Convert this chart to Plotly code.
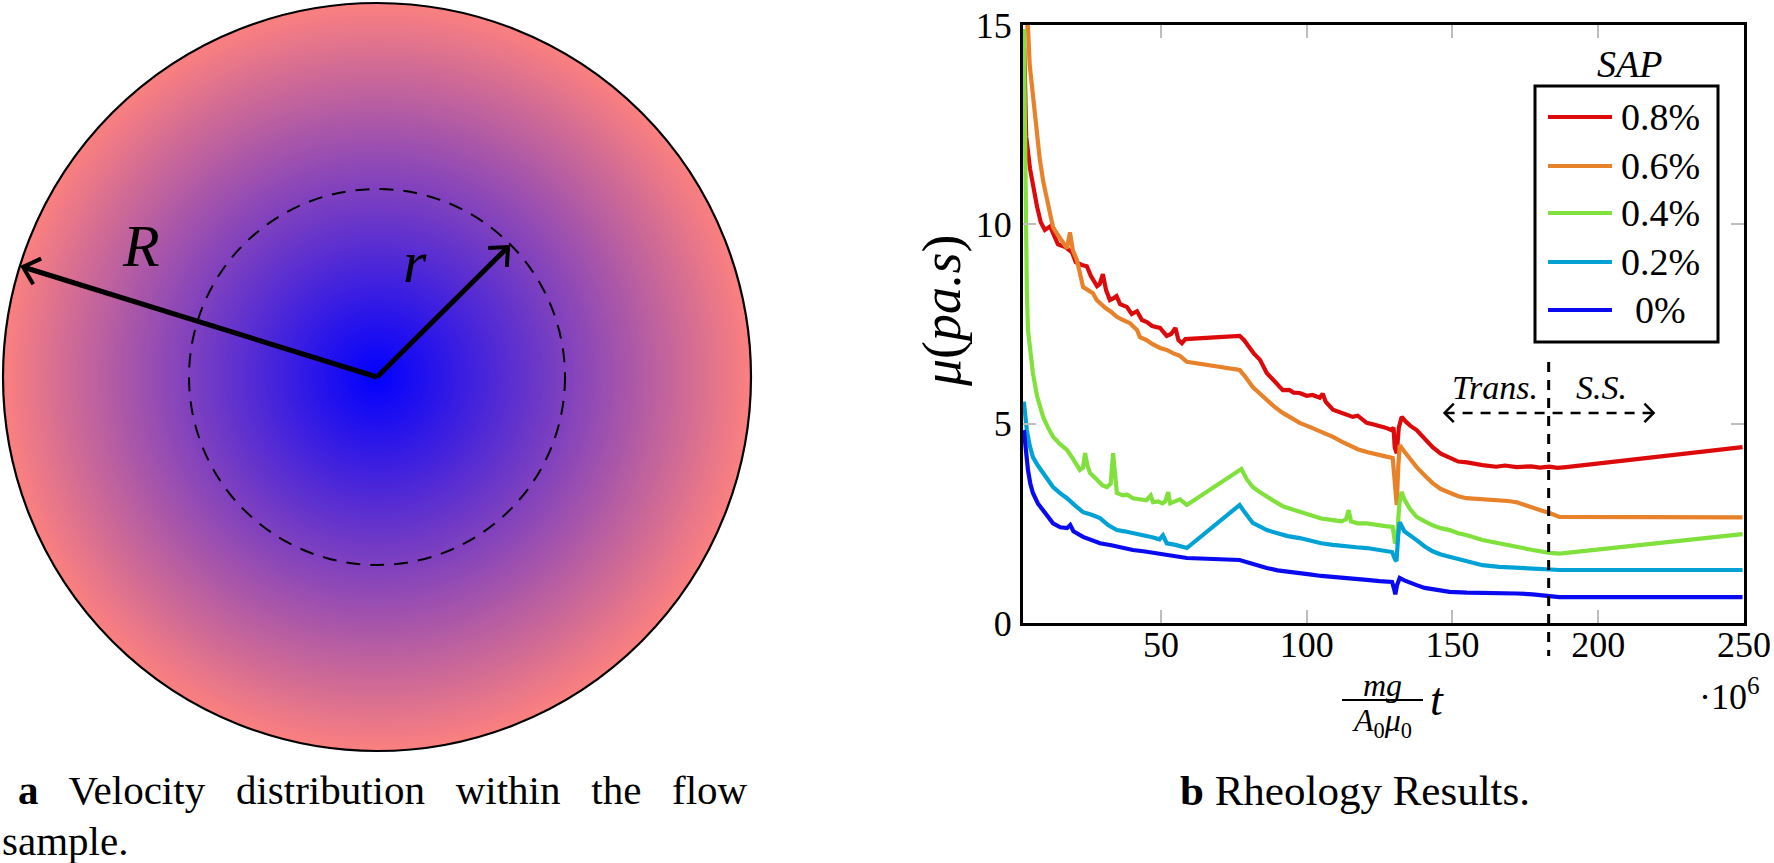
import math
import plotly.graph_objects as go

W, H = 1774, 863

# ---------------- data ----------------
series_names = ["0.8%", "0.6%", "0.4%", "0.2%", "0%"]
series_colors = ["#dc0a0a", "#e8822a", "#80e03c", "#00a2d6", "#0a0af0"]

x_08 = [3.0, 3.3, 3.8, 5.1, 6.2, 7.5, 8.8, 10.2, 12.0, 13.3, 14.7, 16.5, 17.8, 19.5, 20.8, 22.9, 24.6, 26.0,
        28.1, 29.0, 30.1, 31.2, 32.5, 33.8, 34.8, 36.0, 38.3, 40.0, 41.8, 43.5, 45.2, 47.0, 49.7, 52.0, 53.5,
        55.0, 56.0, 57.2, 58.4, 77.0, 78.5, 80.0, 82.0, 84.0, 85.5, 86.3, 88.5, 90.5, 91.8, 94.0, 95.5, 97.6,
        100.0, 102.0, 104.5, 105.5, 106.5, 109.0, 111.0, 113.0, 115.8, 117.5, 120.6, 123.0, 125.0, 127.0,
        129.0, 129.8, 130.2, 130.9, 131.6, 132.6, 134.0, 135.5, 137.7, 140.5, 143.2, 146.0, 149.0, 152.0,
        155.0, 158.0, 160.3, 165.0, 168.0, 172.0, 177.0, 180.0, 183.3, 186.0, 189.0, 249.5]
y_08 = [14.9, 13.6, 12.2, 11.4, 10.9, 10.45, 10.05, 9.86, 9.95, 9.7, 9.5, 9.45, 9.4, 9.3, 9.05, 8.98, 8.95, 8.7,
        8.45, 8.5, 8.75, 8.35, 8.1, 8.15, 8.2, 8.0, 7.93, 7.75, 7.82, 7.6, 7.55, 7.45, 7.4, 7.2, 7.25,
        7.4, 7.1, 7.02, 7.12, 7.2, 7.1, 6.95, 6.75, 6.6, 6.4, 6.27, 6.1, 5.95, 5.84, 5.85, 5.78, 5.77,
        5.7, 5.72, 5.65, 5.75, 5.55, 5.35, 5.3, 5.25, 5.17, 5.2, 5.02, 4.98, 4.95, 4.9,
        4.84, 4.9, 4.4, 4.26, 4.9, 5.17, 5.05, 4.95, 4.84, 4.62, 4.41, 4.25, 4.14, 4.05,
        4.03, 3.98, 3.96, 3.92, 3.95, 3.91, 3.93, 3.9, 3.92, 3.89, 3.91, 4.41]

x_06 = [3.5, 4.4, 5.0, 6.1, 7.2, 8.5, 9.7, 10.9, 12.0, 13.0, 14.5, 16.1, 17.8, 18.8, 19.8, 21.2, 22.3, 23.3,
        25.0, 26.7, 28.0, 29.1, 31.0, 33.0, 34.9, 37.0, 39.4, 41.8, 42.8, 45.0, 47.0, 49.7, 52.0, 54.1,
        56.5, 58.9, 77.0, 78.7, 80.0, 81.5, 84.0, 86.3, 89.0, 91.8, 94.5, 97.6, 101.0, 105.0, 109.0, 112.0,
        115.0, 117.5, 120.6, 124.0, 127.0, 129.5, 130.2, 130.9, 131.4, 131.9, 133.5, 135.5, 137.7, 140.5,
        143.2, 146.0, 149.0, 152.0, 154.8, 158.0, 162.0, 166.2, 169.0, 172.0, 175.0, 177.5, 180.5, 183.3,
        186.7, 249.5]
y_06 = [14.95, 14.95, 14.0, 13.29, 12.4, 11.61, 11.05, 10.61, 10.2, 9.93, 9.75, 9.6, 9.4, 9.8, 9.35, 9.1, 8.75, 8.43,
        8.35, 8.27, 8.1, 8.02, 7.9, 7.8, 7.68, 7.6, 7.52, 7.35, 7.17, 7.1, 7.0, 6.9, 6.85, 6.77,
        6.7, 6.55, 6.35, 6.2, 6.05, 5.92, 5.75, 5.59, 5.42, 5.27, 5.15, 5.02, 4.92, 4.8, 4.67, 4.55,
        4.45, 4.36, 4.29, 4.22, 4.18, 4.14, 3.6, 2.96, 3.9, 4.46, 4.3, 4.1, 3.91, 3.7,
        3.51, 3.36, 3.26, 3.18, 3.13, 3.12, 3.1, 3.08, 3.06, 3.03, 2.95, 2.88, 2.82, 2.76,
        2.66, 2.65]

x_04 = [3.0, 3.3, 3.6, 4.0, 4.4, 5.2, 6.1, 7.5, 9.6, 11.3, 13.0, 15.5, 17.8, 20.0, 22.2, 23.3, 24.0, 24.8,
        25.7, 28.0, 30.0, 31.5, 32.8, 33.6, 34.3, 34.9, 37.0, 38.5, 40.4, 43.0, 45.0, 46.5, 47.3, 49.0,
        50.5, 51.5, 52.5, 53.2, 55.0, 56.5, 58.9, 77.6, 79.5, 81.5, 84.0, 86.3, 89.0, 92.0, 95.0, 97.6,
        101.0, 105.0, 109.0, 112.0, 113.5, 114.4, 115.2, 117.5, 120.6, 124.0, 127.0, 129.5, 130.3, 130.9,
        131.8, 132.6, 133.5, 135.5, 137.7, 140.5, 143.2, 146.0, 149.0, 152.0, 155.0, 160.3, 166.0, 172.0,
        177.5, 183.3, 186.7, 249.5]
y_04 = [14.9, 12.5, 10.0, 8.4, 7.35, 6.75, 6.27, 5.7, 5.17, 4.9, 4.67, 4.48, 4.34, 4.1, 3.84, 3.9, 4.26, 3.95,
        3.76, 3.6, 3.45, 3.41, 3.5, 4.26, 3.6, 3.26, 3.2, 3.22, 3.13, 3.1, 3.08, 3.2, 3.03, 3.05,
        3.0, 3.05, 3.28, 3.0, 3.05, 3.1, 2.96, 3.86, 3.6, 3.41, 3.28, 3.16, 3.05, 2.92, 2.85, 2.78,
        2.7, 2.62, 2.58, 2.55, 2.6, 2.83, 2.55, 2.5, 2.5, 2.45, 2.43, 2.41, 2.0, 2.05,
        3.0, 3.29, 3.1, 2.85, 2.66, 2.55, 2.45, 2.38, 2.33, 2.25, 2.2, 2.08, 1.99, 1.91,
        1.83, 1.76, 1.74, 2.23]

x_02 = [3.0, 3.4, 4.0, 5.0, 6.1, 7.8, 9.6, 11.3, 13.0, 15.5, 17.8, 20.5, 23.3, 26.0, 29.1, 32.0, 34.9, 37.5,
        40.4, 44.0, 47.0, 49.5, 50.7, 52.0, 55.0, 58.9, 77.0, 78.5, 81.5, 84.0, 86.3, 90.0, 93.5, 97.6,
        101.0, 105.0, 109.0, 113.0, 117.0, 120.6, 125.0, 129.3, 130.3, 130.8, 131.4, 131.9, 133.5, 135.5,
        137.7, 140.5, 143.2, 146.0, 149.0, 152.0, 155.0, 160.3, 166.0, 172.0, 177.5, 183.3, 186.7, 249.5]
y_02 = [5.55, 5.3, 4.84, 4.45, 4.16, 3.95, 3.76, 3.58, 3.41, 3.25, 3.13, 2.95, 2.78, 2.72, 2.63, 2.45, 2.33, 2.3,
        2.26, 2.2, 2.15, 2.1, 2.2, 2.0, 1.96, 1.88, 2.96, 2.8, 2.51, 2.42, 2.33, 2.25, 2.18, 2.13,
        2.06, 2.0, 1.96, 1.92, 1.9, 1.88, 1.82, 1.78, 1.6, 1.55, 2.2, 2.53, 2.3, 2.18,
        2.08, 1.92, 1.8, 1.72, 1.66, 1.6, 1.53, 1.45, 1.41, 1.38, 1.36, 1.35, 1.33, 1.33]

x_00 = [3.0, 3.6, 4.4, 5.2, 6.1, 7.8, 9.6, 11.3, 13.0, 15.5, 17.8, 18.9, 20.0, 23.3, 26.0, 29.1, 33.0, 36.0,
        40.4, 44.0, 48.0, 52.0, 55.0, 58.9, 77.0, 78.4, 82.0, 86.3, 90.0, 93.5, 97.6, 101.0, 105.0, 109.0,
        113.0, 117.0, 120.6, 125.0, 129.3, 130.0, 130.4, 131.0, 131.9, 133.5, 135.5, 137.7, 140.5, 143.2,
        146.0, 149.0, 155.0, 160.0, 166.0, 172.0, 177.5, 183.3, 186.7, 249.5]
y_00 = [4.84, 4.3, 3.84, 3.5, 3.26, 3.0, 2.83, 2.65, 2.5, 2.4, 2.38, 2.46, 2.3, 2.16, 2.08, 2.0, 1.95, 1.9,
        1.83, 1.8, 1.75, 1.71, 1.68, 1.63, 1.58, 1.55, 1.45, 1.38, 1.32, 1.28, 1.25, 1.22, 1.18, 1.16,
        1.13, 1.1, 1.08, 1.05, 1.03, 0.85, 0.72, 0.95, 1.13, 1.07, 1.0, 0.95, 0.88, 0.84,
        0.8, 0.78, 0.76, 0.76, 0.75, 0.74, 0.72, 0.67, 0.65, 0.65]

series_x = [x_08, x_06, x_04, x_02, x_00]
series_y = [y_08, y_06, y_04, y_02, y_00]

x_ticks = [50, 100, 150, 200, 250]
y_ticks = [0, 5, 10, 15]
x_range = [2.7, 250]
y_range = [0, 15]

transition_x = 183          # dashed separator Trans. / S.S.
phase_arrow_x = [147.3, 219]
phase_arrow_y = 5.27
phase_labels = ["<i>Trans.</i>", "<i>S.S.</i>"]
phase_label_x = [164.5, 201]
phase_label_y = 5.9

# ---------------- layout geometry (pixels) ----------------
PL, PR, PT, PB = 1023, 1744, 25, 623   # plot box
SERIF = "Liberation Serif"


def px(X):
    return X / W


def py(Y):
    return 1 - Y / H


def dX(x):
    return PL + (x - x_range[0]) / (x_range[1] - x_range[0]) * (PR - PL)


def dY(y):
    return PB - (y - y_range[0]) / (y_range[1] - y_range[0]) * (PB - PT)


def txt(X, Y, text, size, **kw):
    d = dict(xref="paper", yref="paper", x=px(X), y=py(Y), text=text, showarrow=False,
             xanchor="center", yanchor="middle",
             font=dict(family=SERIF, size=size, color="black"))
    d.update(kw)
    return d


fig = go.Figure()

for name, col, xs, ys in zip(series_names, series_colors, series_x, series_y):
    fig.add_trace(go.Scatter(x=xs, y=ys, mode="lines", name=name,
                             line=dict(color=col, width=4.2), showlegend=False))

axis_common = dict(showline=True, linecolor="black", linewidth=3, mirror="allticks",
                   ticks="inside", ticklen=13, tickwidth=1.5, tickcolor="#bdbdbd",
                   showgrid=False, zeroline=False, automargin=False,
                   tickfont=dict(family=SERIF, size=36, color="black"))

fig.update_layout(
    width=W, height=H, autosize=False,
    margin=dict(l=0, r=0, t=0, b=0, pad=0, autoexpand=False),
    paper_bgcolor="white", plot_bgcolor="rgba(0,0,0,0)",
    xaxis=dict(domain=[px(PL), px(PR)], range=x_range, tickvals=x_ticks,
               ticklabelstandoff=-12, **axis_common),
    yaxis=dict(domain=[py(PB), py(PT)], range=y_range, tickvals=y_ticks,
               ticklabelstandoff=1, **axis_common),
    showlegend=False,
)

shapes = []
annotations = []

# ---------------- left panel: radial gradient disc ----------------
cx, cy, R = 377, 377, 374
r_small = 188
inner = (0, 0, 255)
outer = (250, 128, 128)
N = 110
for i in range(N, 0, -1):
    t = i / N
    rr = R * t
    c = tuple(int(round(inner[k] + (outer[k] - inner[k]) * t)) for k in range(3))
    shapes.append(dict(type="circle", xref="paper", yref="paper",
                       x0=px(cx - rr), x1=px(cx + rr), y0=py(cy + rr), y1=py(cy - rr),
                       fillcolor="rgb(%d,%d,%d)" % c, line=dict(width=0), layer="below"))
shapes.append(dict(type="circle", xref="paper", yref="paper",
                   x0=px(cx - R), x1=px(cx + R), y0=py(cy + R), y1=py(cy - R),
                   line=dict(color="black", width=2.2), layer="above"))
shapes.append(dict(type="circle", xref="paper", yref="paper",
                   x0=px(cx - r_small), x1=px(cx + r_small), y0=py(cy + r_small), y1=py(cy - r_small),
                   line=dict(color="black", width=2, dash="14px,10px"), layer="above"))


def arrow_head(tipX, tipY, fromX, fromY, L=20, ang=42):
    a = math.atan2(fromY - tipY, fromX - tipX)
    pts = []
    for s in (1, -1):
        b = a + s * math.radians(ang)
        pts.append((tipX + L * math.cos(b), tipY + L * math.sin(b)))
    return "M %f,%f L %f,%f L %f,%f" % (px(pts[0][0]), py(pts[0][1]), px(tipX), py(tipY),
                                        px(pts[1][0]), py(pts[1][1]))


for (tx, ty) in [(23, 267), (508, 247)]:
    shapes.append(dict(type="line", xref="paper", yref="paper",
                       x0=px(cx), y0=py(cy), x1=px(tx), y1=py(ty),
                       line=dict(color="black", width=5)))
    shapes.append(dict(type="path", xref="paper", yref="paper",
                       path=arrow_head(tx, ty, cx, cy), line=dict(color="black", width=4)))

annotations.append(txt(141, 246, "<i>R</i>", 60))
annotations.append(txt(415, 262, "<i>r</i>", 60))

# captions
annotations.append(txt(16, 790, "<b>a</b>   Velocity   distribution   within   the   flow", 41,
                       xanchor="left"))
annotations.append(txt(0, 841, "sample.", 41, xanchor="left"))
annotations.append(txt(1355, 790, "<b>b</b> Rheology Results.", 43))

# ---------------- right panel decorations ----------------
annotations.append(txt(942, 311, "<i>μ</i>(<i>pa.s</i>)", 54, textangle=-90))
annotations.append(txt(1382, 685, "<i>mg</i>", 32))
annotations.append(txt(1382, 722, "<i>A</i><sub>0</sub><i>μ</i><sub>0</sub>", 32))
shapes.append(dict(type="line", xref="paper", yref="paper", x0=px(1342), x1=px(1423),
                   y0=py(700), y1=py(700), line=dict(color="black", width=2)))
annotations.append(txt(1437, 699, "<i>t</i>", 46))
annotations.append(txt(1729, 694, "·10<sup>6</sup>", 36))

# transition separator
shapes.append(dict(type="line", xref="x", yref="paper", x0=transition_x, x1=transition_x,
                   y0=py(362), y1=py(656), line=dict(color="black", width=3, dash="10px,8px")))
shapes.append(dict(type="line", xref="x", yref="y", x0=phase_arrow_x[0], x1=phase_arrow_x[1],
                   y0=phase_arrow_y, y1=phase_arrow_y,
                   line=dict(color="black", width=2.5, dash="10px,8px")))
ayp = dY(phase_arrow_y)
shapes.append(dict(type="path", xref="paper", yref="paper",
                   path=arrow_head(dX(phase_arrow_x[0]), ayp, dX(phase_arrow_x[1]), ayp, L=13, ang=45),
                   line=dict(color="black", width=2.5)))
shapes.append(dict(type="path", xref="paper", yref="paper",
                   path=arrow_head(dX(phase_arrow_x[1]), ayp, dX(phase_arrow_x[0]), ayp, L=13, ang=45),
                   line=dict(color="black", width=2.5)))
for lab, lx in zip(phase_labels, phase_label_x):
    annotations.append(dict(xref="x", yref="y", x=lx, y=phase_label_y, text=lab, showarrow=False,
                            xanchor="center", yanchor="middle",
                            font=dict(family=SERIF, size=34, color="black")))

# manual legend
LX0, LX1, LY0, LY1 = 1535, 1718, 86, 342
shapes.append(dict(type="rect", xref="paper", yref="paper", x0=px(LX0), x1=px(LX1),
                   y0=py(LY1), y1=py(LY0), line=dict(color="black", width=3),
                   fillcolor="white", layer="above"))
annotations.append(txt(1629, 64, "<i>SAP</i>", 38))
entry_y = [117, 166, 213, 262, 310]
for name, col, ey in zip(series_names, series_colors, entry_y):
    shapes.append(dict(type="line", xref="paper", yref="paper", x0=px(1548), x1=px(1612),
                       y0=py(ey), y1=py(ey), line=dict(color=col, width=4.2), layer="above"))
    annotations.append(txt(1660, ey, name, 38))

fig.update_layout(shapes=shapes, annotations=annotations)
fig.write_html("out.html", config={"displayModeBar": False},
               post_script="document.body.style.margin='0';"
                           "document.documentElement.style.overflow='hidden';")
